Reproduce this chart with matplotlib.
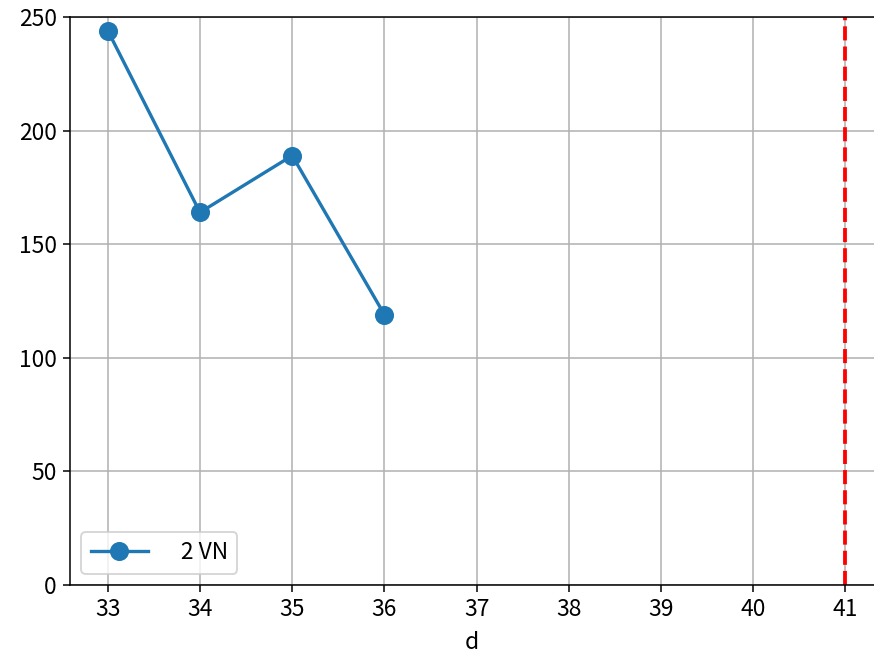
import matplotlib
matplotlib.use('Agg')
import matplotlib.pyplot as plt

plt.rcParams['font.family'] = ['Noto Sans CJK JP', 'DejaVu Sans']

# data
days = [33, 34, 35, 36]
counts = [244, 164, 189, 119]
series_label = '\u30002 VN'
cutoff_day = 41
xticks = [33, 34, 35, 36, 37, 38, 39, 40, 41]

fig = plt.figure(figsize=(874 / 137, 658 / 137), dpi=137)
ax = fig.add_axes([70 / 874, 73 / 658, 1.0 - 70 / 874, (585 - 17) / 658])

ax.plot(days, counts, marker='o', color='#1f77b4', linewidth=1.75,
        markersize=9, label=series_label)
ax.axvline(cutoff_day, color='red', linestyle='--', linewidth=2)

ax.set_xlim(32.59, 41.31)
ax.set_ylim(0, 250)
ax.set_xticks(xticks)
ax.tick_params(labelsize=12)
ax.set_xlabel('d', fontsize=12, labelpad=5)
ax.grid(True)
ax.spines['right'].set_visible(False)
ax.legend(loc='lower left', fontsize=12, handlelength=2.5,
          handletextpad=0.45, borderaxespad=0.5)

fig.savefig('out.png', dpi=137)
